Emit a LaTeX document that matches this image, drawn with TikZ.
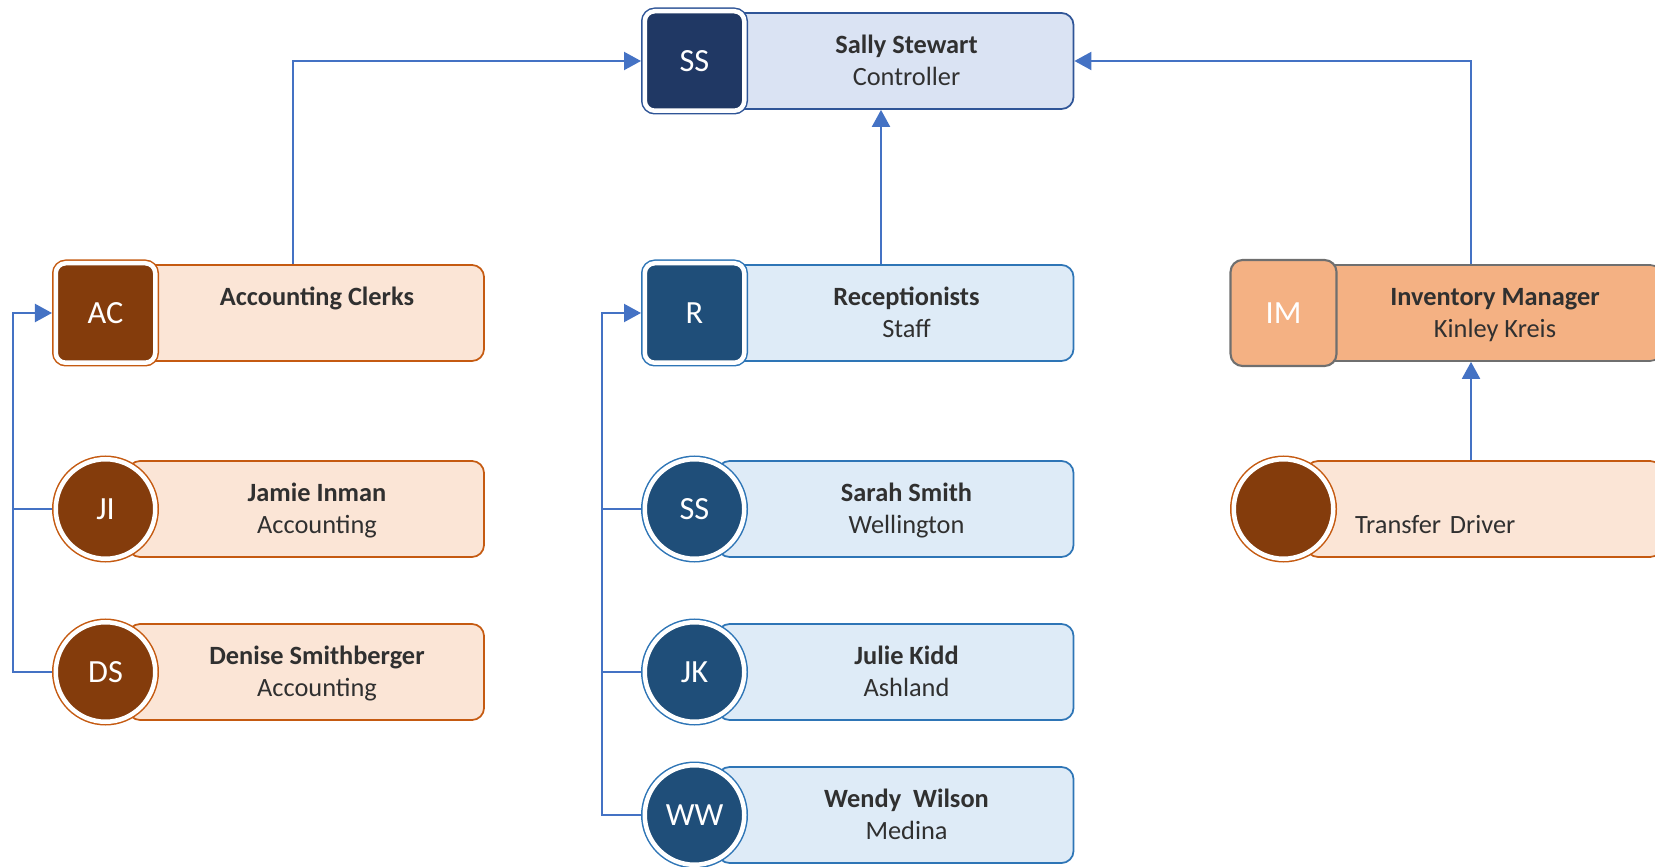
\documentclass[tikz,border=0pt]{standalone}
\usepackage{fontspec}
\setmainfont{Carlito}
\usetikzlibrary{arrows.meta}

\definecolor{linkblue}{HTML}{4472C4}
\definecolor{textgray}{HTML}{303030}
\definecolor{navydark}{HTML}{203864}
\definecolor{navyline}{HTML}{2F5597}
\definecolor{navyfill}{HTML}{DAE3F3}
\definecolor{bluedark}{HTML}{1F4E79}
\definecolor{blueline}{HTML}{2E75B6}
\definecolor{bluefill}{HTML}{DEEBF7}
\definecolor{browndark}{HTML}{843C0C}
\definecolor{brownline}{HTML}{C55A11}
\definecolor{brownfill}{HTML}{FBE5D6}
\definecolor{imfill}{HTML}{F4B183}
\definecolor{imline}{HTML}{6F6F6F}

\newcommand{\cardtext}[2]{\hspace{0.22cm}\raisebox{-0.087cm}[0pt][0pt]{\begin{tabular}{@{}c@{}}\textbf{#1}\\#2\end{tabular}}}

\begin{document}
\begin{tikzpicture}[
	link/.style={draw=linkblue, line width=0.6pt, -{Triangle[length=0.17cm, width=0.18cm]}},
	bus/.style={draw=linkblue, line width=0.6pt},
	card/.style={rectangle, rounded corners=0.12cm, line width=0.5pt, minimum width=3.56cm, minimum height=0.96cm, inner sep=0pt, text=textgray, font=\fontsize{7.5}{9.1}\selectfont},
	navycard/.style={card, draw=navyline, fill=navyfill},
	bluecard/.style={card, draw=blueline, fill=bluefill},
	browncard/.style={card, draw=brownline, fill=brownfill},
	imcard/.style={card, draw=imline, fill=imfill},
	icon/.style={minimum size=0.995cm, inner sep=0pt, outer sep=0.0375cm, line width=0.045cm, draw=white, text=white, font=\fontsize{9.2}{11}\selectfont},
	navybox/.style={icon, rectangle, rounded corners=0.1cm, fill=navydark, preaction={draw=navyline, line width=0.075cm}},
	bluebox/.style={icon, rectangle, rounded corners=0.1cm, fill=bluedark, preaction={draw=blueline, line width=0.075cm}},
	brownbox/.style={icon, rectangle, rounded corners=0.1cm, fill=browndark, preaction={draw=brownline, line width=0.075cm}},
	bluedot/.style={icon, circle, fill=bluedark, preaction={draw=blueline, line width=0.075cm}},
	browndot/.style={icon, circle, fill=browndark, preaction={draw=brownline, line width=0.075cm}},
	imbox/.style={rectangle, rounded corners=0.12cm, minimum size=1.06cm, inner sep=0pt, line width=0.6pt, draw=imline, fill=imfill, text=white, font=\fontsize{9.2}{11}\selectfont}
	]
	\useasboundingbox (0,0) rectangle (16.55,8.66);

	\node[navycard] (ssc) at (8.955,8.05) {\cardtext{Sally Stewart}{Controller}};
	\node[navybox] (ss) at (6.945,8.05) {SS};

	\node[browncard] (acc) at (3.06,5.53) {\cardtext{Accounting Clerks}{\mbox{}}};
	\node[brownbox] (ac) at (1.055,5.53) {AC};
	\node[browncard] (jic) at (3.06,3.57) {\cardtext{Jamie Inman}{Accounting}};
	\node[browndot] (ji) at (1.055,3.57) {JI};
	\node[browncard] (dsc) at (3.06,1.94) {\cardtext{Denise Smithberger}{Accounting}};
	\node[browndot] (ds) at (1.055,1.94) {DS};

	\node[bluecard] (rc) at (8.955,5.53) {\cardtext{Receptionists}{Staff}};
	\node[bluebox] (r) at (6.945,5.53) {R};
	\node[bluecard] (sac) at (8.955,3.57) {\cardtext{Sarah Smith}{Wellington}};
	\node[bluedot] (sa) at (6.945,3.57) {SS};
	\node[bluecard] (jkc) at (8.955,1.94) {\cardtext{Julie Kidd}{Ashland}};
	\node[bluedot] (jk) at (6.945,1.94) {JK};
	\node[bluecard] (wwc) at (8.955,0.51) {\cardtext{Wendy~ Wilson}{Medina}};
	\node[bluedot] (ww) at (6.945,0.51) {WW};

	\node[imcard] (imc) at (14.84,5.53) {\cardtext{Inventory Manager}{Kinley Kreis}};
	\node[imbox] (im) at (12.835,5.53) {IM};
	\node[browncard, text width=2.58cm, inner xsep=0.49cm, align=left] (tdc) at (14.84,3.57) {\raisebox{-0.087cm}[0pt][0pt]{\begin{tabular}{@{}l@{}}\\Transfer Driver\end{tabular}}};
	\node[browndot] (td) at (12.835,3.57) {};

	\draw[link] ([xshift=-0.13cm]acc.north) |- (ss.west);
	\draw[link] ([xshift=-0.145cm]rc.north) -- ([xshift=-0.145cm]ssc.south);
	\draw[link] ([xshift=-0.13cm]imc.north) |- (ssc.east);
	\draw[link] ([xshift=-0.13cm]tdc.north) -- ([xshift=-0.13cm]imc.south);

	\coordinate (lbus) at (0.13,5.53);
	\coordinate (mbus) at (6.02,5.53);
	\draw[link] (ds.west) -| (lbus) -- (ac.west);
	\draw[bus] (ji.west) -- (ji.west -| lbus);
	\draw[link] (ww.west) -| (mbus) -- (r.west);
	\draw[bus] (sa.west) -- (sa.west -| mbus);
	\draw[bus] (jk.west) -- (jk.west -| mbus);
\end{tikzpicture}
\end{document}
